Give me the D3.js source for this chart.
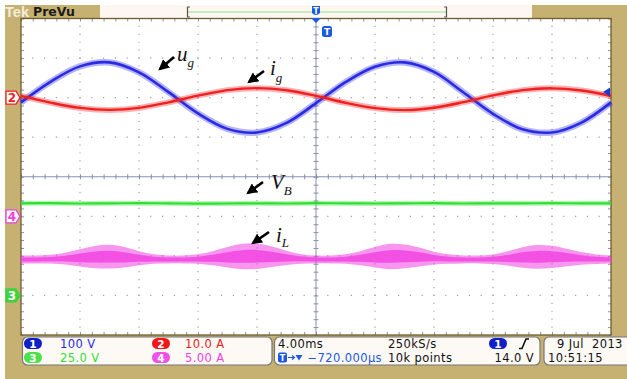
<!DOCTYPE html>
<html><head><meta charset="utf-8">
<script src="https://cdn.jsdelivr.net/npm/d3@7"></script>
<style>html,body{margin:0;padding:0;background:#fff;}svg{display:block;}</style>
</head><body>
<svg id="c" width="627" height="379"></svg>
<script>
// ---- data (time in ms, 4 ms/div, 10 div) ----
const tCoarse = d3.range(0, 40.01, 2);           // 2 ms steps
const tFine = d3.range(0, 40.01, 1);             // 1 ms steps
// CH1 u_g (V), 100 V/div
const ug = [-12, 40, 79, 89, 64, 14, -40, -79, -88, -64, -14, 39, 78, 89, 65, 13, -41, -80, -88, -63, -12];
// CH2 i_g (A), 10 A/div
const ig = [0.45, -1.25, -2.6, -3.1, -2.6, -1.2, 0.5, 1.9, 2.4, 1.85, 0.45, -1.3, -2.65, -3.15, -2.55, -1.15, 0.55, 1.9, 2.35, 1.8, 0.4];
// CH3 V_B (V), 25 V/div
const vB = [58.2, 58.3, 58.1, 58.2, 58.3, 58.2, 58.0, 58.1, 58.2, 58.1, 58.3, 58.2, 58.1, 58.2, 58.3, 58.1, 58.2, 58.2, 58.3, 58.2, 58.2];
// CH4 i_L (A), 5 A/div : centre of trace and half-width of ripple band
const iLmid = [-5.45,-5.45,-5.42,-5.35,-5.25,-5.15,-5.1,-5.18,-5.3,-5.4,-5.45,-5.45,-5.4,-5.3,-5.18,-5.08,-5.05,-5.12,-5.25,-5.38,-5.45,-5.45,-5.4,-5.3,-5.18,-5.08,-5.06,-5.15,-5.28,-5.4,-5.45,-5.45,-5.42,-5.33,-5.2,-5.12,-5.12,-5.2,-5.32,-5.42,-5.45];
const iLspread = [0.5,0.5,0.55,0.75,1.1,1.4,1.5,1.3,0.9,0.6,0.5,0.5,0.6,0.9,1.3,1.6,1.6,1.3,0.9,0.6,0.5,0.5,0.6,0.9,1.3,1.6,1.5,1.2,0.8,0.6,0.5,0.5,0.6,0.9,1.3,1.5,1.4,1.1,0.8,0.6,0.5];
// channel settings
const chScale = [100, 10, 25, 5];      // units / div
const chPos = [2, 2, -3, -1];          // ground marker position (div)
const chColor = ["#2a2ae6", "#f02020", "#30e030", "#f040e0"];
const chLabels = ["100 V", "10.0 A", "25.0 V", "5.00 A"];
const timebase = "4.00ms", sampleRate = "250kS/s", delay = "\u2212720.000\u00b5s", recLen = "10k points", trigLevel = "14.0 V";
const dateText = "9 Jul  2013", timeText = "10:51:15";
const trigVolts = 14.0;

const svg = d3.select("#c");
const tan = "#c6b172";
const L = 21, R = 611, T = 18.5, B = 335;
const x = d3.scaleLinear().domain([0, 40]).range([L, R]);
const y = d3.scaleLinear().domain([-4, 4]).range([B, T]);
const yCh = (ch, v) => y(v / chScale[ch] + chPos[ch]);

// frame / background
svg.append("rect").attr("x", 5).attr("y", 5).attr("width", 622).attr("height", 374).attr("fill", tan);
svg.append("rect").attr("x", L).attr("y", T).attr("width", R - L).attr("height", B - T).attr("fill", "#ffffff");

// record view bar
svg.append("rect").attr("x", 100).attr("y", 5).attr("width", 432).attr("height", 13).attr("fill", "#fdf7f1");
svg.append("line").attr("x1", 188).attr("x2", 446).attr("y1", 12).attr("y2", 12).attr("stroke", "#8de08d").attr("stroke-width", 1.2);
svg.append("path").attr("d", "M190,7 H187.5 V17 H190").attr("fill", "none").attr("stroke", "#555").attr("stroke-width", 1.2);
svg.append("path").attr("d", "M444,7 H446.5 V17 H444").attr("fill", "none").attr("stroke", "#555").attr("stroke-width", 1.2);
svg.append("text").attr("x", 5).attr("y", 17).attr("font-family", "Liberation Sans").attr("font-size", 15).attr("font-weight", "bold")
  .attr("textLength", 24).attr("lengthAdjust", "spacingAndGlyphs").attr("fill", "#f3ecd8").text("Tek");
svg.append("text").attr("x", 33).attr("y", 16).attr("font-family", "DejaVu Sans").attr("font-size", 12.5).attr("font-weight", "bold").attr("fill", "#1a1a1a").text("PreVu");

// graticule dotted lines
const g = svg.append("g");
const xDivs = d3.range(1, 10).map(i => i * 4);
const yDivs = d3.range(-3, 4);
const dotX = (x(0.8) - x(0));
const dotY = (y(0) - y(0.2));
g.selectAll(".vg").data(xDivs.filter(d => d !== 20)).join("line")
  .attr("x1", d => x(d)).attr("x2", d => x(d)).attr("y1", T).attr("y2", B)
  .attr("stroke", "#9aa0b8").attr("stroke-width", 1.2).attr("stroke-dasharray", `1.2 ${dotY - 1.2}`).attr("stroke-dashoffset", 0.6);
g.selectAll(".hg").data(yDivs.filter(d => d !== 0)).join("line")
  .attr("x1", L).attr("x2", R).attr("y1", d => y(d)).attr("y2", d => y(d))
  .attr("stroke", "#9aa0b8").attr("stroke-width", 1.2).attr("stroke-dasharray", `1.2 ${dotX - 1.2}`).attr("stroke-dashoffset", 0.6);
// centre axes
g.append("line").attr("x1", L).attr("x2", R).attr("y1", y(0)).attr("y2", y(0)).attr("stroke", "#8890b0").attr("stroke-width", 1);
g.append("line").attr("x1", x(20)).attr("x2", x(20)).attr("y1", T).attr("y2", B).attr("stroke", "#8890b0").attr("stroke-width", 1);
const xt = d3.range(0, 40.01, 0.8), yt = d3.range(-4, 4.01, 0.2);
const axC = g.append("g").attr("transform", `translate(0,${y(0) - 2.5})`).call(d3.axisBottom(x).tickValues(xt).tickSize(5).tickFormat(""));
const ayC = g.append("g").attr("transform", `translate(${x(20) + 2.5},0)`).call(d3.axisLeft(y).tickValues(yt).tickSize(5).tickFormat(""));
const axT = g.append("g").attr("transform", `translate(0,${T})`).call(d3.axisBottom(x).tickValues(xt).tickSize(3).tickFormat(""));
const axB = g.append("g").attr("transform", `translate(0,${B})`).call(d3.axisTop(x).tickValues(xt).tickSize(3).tickFormat(""));
const ayL = g.append("g").attr("transform", `translate(${L},0)`).call(d3.axisRight(y).tickValues(yt).tickSize(3).tickFormat(""));
const ayR = g.append("g").attr("transform", `translate(${R},0)`).call(d3.axisLeft(y).tickValues(yt).tickSize(3).tickFormat(""));
[axC, ayC, axT, axB, ayL, ayR].forEach(a => { a.select(".domain").remove(); a.selectAll("line").attr("stroke", "#8890b0"); });
svg.append("rect").attr("x", L).attr("y", T).attr("width", R - L).attr("height", B - T).attr("fill", "none").attr("stroke", "#6e5c2c").attr("stroke-width", 1.3);

// traces
const tr = svg.append("g");
function trace(tArr, vals, ch, wCore, wHalo) {
  const ln = d3.line().x((d, i) => x(tArr[i])).y(d => yCh(ch, d)).curve(d3.curveCatmullRom);
  tr.append("path").attr("d", ln(vals)).attr("fill", "none").attr("stroke", chColor[ch]).attr("stroke-width", wHalo).attr("stroke-opacity", 0.35);
  tr.append("path").attr("d", ln(vals)).attr("fill", "none").attr("stroke", chColor[ch]).attr("stroke-width", wCore);
}
// i_L band
const area = d3.area().x((d, i) => x(tFine[i])).y0((d, i) => yCh(3, d - iLspread[i])).y1((d, i) => yCh(3, d + iLspread[i])).curve(d3.curveCatmullRom);
tr.append("path").attr("d", area(iLmid)).attr("fill", chColor[3]).attr("fill-opacity", 0.55);
const area2 = d3.area().x((d, i) => x(tFine[i])).y0((d, i) => yCh(3, d - iLspread[i] * 0.5)).y1((d, i) => yCh(3, d + iLspread[i] * 0.5)).curve(d3.curveCatmullRom);
tr.append("path").attr("d", area2(iLmid)).attr("fill", chColor[3]).attr("fill-opacity", 0.8);
trace(tCoarse, vB, 2, 2.2, 5);
trace(tCoarse, ug, 0, 2.6, 6.5);
trace(tCoarse, ig, 1, 2.4, 6);

// annotations
const ann = svg.append("g");
svg.append("defs").append("marker").attr("id", "ah").attr("viewBox", "0 0 10 10").attr("refX", 8).attr("refY", 5)
  .attr("markerWidth", 4.2).attr("markerHeight", 4.2).attr("orient", "auto")
  .append("path").attr("d", "M0,0 L10,5 L0,10 Z").attr("fill", "#000");
function arrow(x1, y1, x2, y2) {
  ann.append("line").attr("x1", x1).attr("y1", y1).attr("x2", x2).attr("y2", y2).attr("stroke", "#000").attr("stroke-width", 2.6).attr("marker-end", "url(#ah)");
}
function label(xx, yy, main, sub, dy) {
  const t = ann.append("text").attr("x", xx).attr("y", yy).attr("font-family", "Liberation Serif").attr("font-style", "italic").attr("font-size", 21).attr("fill", "#111");
  t.append("tspan").text(main);
  t.append("tspan").attr("dy", dy).attr("font-size", 13).text(sub);
}
arrow(174, 57, 160, 69); label(177, 61, "u", "g", 6);
arrow(264, 71, 249, 82); label(270, 75, "i", "g", 7);
arrow(263, 182, 248, 193); label(271, 189, "V", "B", 6);
arrow(269, 232, 253, 243); label(276, 242, "i", "L", 5);

// channel ground markers (left)
function leftMarker(ch, fillCol, strokeCol, textCol, txt) {
  const yy = y(chPos[ch]);
  svg.append("path").attr("d", `M6,${yy - 6.5} H16 L20,${yy} L16,${yy + 6.5} H6 Z`).attr("fill", fillCol).attr("stroke", strokeCol).attr("stroke-width", 1.3);
  svg.append("text").attr("x", 12).attr("y", yy + 4.5).attr("text-anchor", "middle").attr("font-family", "DejaVu Sans").attr("font-weight", "bold").attr("font-size", 12).attr("fill", textCol).text(txt);
}
leftMarker(1, "#ffffff", chColor[1], chColor[1], "2");
leftMarker(3, "#ffffff", chColor[3], chColor[3], "4");
leftMarker(2, "#3dd43d", "#3dd43d", "#ffffff", "3");
// trigger level arrow (right)
const ty = yCh(0, trigVolts);
svg.append("path").attr("d", `M603,${ty} L610,${ty - 4.5} L610,${ty + 4.5} Z`).attr("fill", "#1a3ad8");
// trigger position markers (top)
const tx = x(20);
svg.append("path").attr("d", `M${tx - 4},6 H${tx + 4} V13 Q${tx},17 ${tx - 4},13 Z`).attr("fill", "#1a5ae0");
svg.append("path").attr("d", `M${tx - 5},18 L${tx + 5},18 L${tx},23 Z`).attr("fill", "#1a5ae0");
svg.append("text").attr("x", tx).attr("y", 14).attr("text-anchor", "middle").attr("font-family", "DejaVu Sans").attr("font-weight", "bold").attr("font-size", 8).attr("fill", "#fff").text("T");
svg.append("rect").attr("x", tx + 6).attr("y", 26).attr("width", 10).attr("height", 11).attr("rx", 2.5).attr("fill", "#1a5ae0");
svg.append("text").attr("x", tx + 11).attr("y", 35).attr("text-anchor", "middle").attr("font-family", "DejaVu Sans").attr("font-weight", "bold").attr("font-size", 9).attr("fill", "#fff").text("T");

// status boxes
const st = svg.append("g").attr("font-family", "DejaVu Sans").attr("font-size", 11.5).attr("letter-spacing", 0.4);
function box(x0, x1) {
  st.append("rect").attr("x", x0).attr("y", 337).attr("width", x1 - x0).attr("height", 28).attr("rx", 5).attr("fill", "#fdf9f5").attr("stroke", "#777").attr("stroke-width", 1.2);
}
box(22.5, 272); box(274.5, 540); box(544, 640);
function badge(cx, cy, col, txt) {
  st.append("rect").attr("x", cx - 9).attr("y", cy - 5.5).attr("width", 18).attr("height", 11).attr("rx", 5.5).attr("fill", col);
  st.append("text").attr("x", cx).attr("y", cy + 4).attr("text-anchor", "middle").attr("font-size", 10.5).attr("letter-spacing", 0).attr("font-weight", "bold").attr("fill", "#fff").text(txt);
}
const rowY = [343.5, 357.5];
const badgeCols = ["#1020c8", "#f01818", "#4ce04c", "#f050e8"];
const pos = [[33, 60], [161, 185], [33, 60], [161, 185]];
[0, 1, 2, 3].forEach(i => {
  const r = i < 2 ? 0 : 1;
  badge(pos[i][0], rowY[r], badgeCols[i], String(i + 1));
  st.append("text").attr("x", pos[i][1]).attr("y", rowY[r] + 4.5).attr("fill", chColor[i]).text(chLabels[i]);
});
st.append("text").attr("x", 278).attr("y", 348).attr("fill", "#111").text(timebase);
st.append("text").attr("x", 388).attr("y", 348).attr("fill", "#111").text(sampleRate);
badge(498, 343.5, "#1020c8", "1");
st.append("path").attr("d", "M519,348.5 H522 L526,339 H529").attr("fill", "none").attr("stroke", "#111").attr("stroke-width", 1.6);
st.append("rect").attr("x", 278).attr("y", 352.5).attr("width", 9).attr("height", 10).attr("rx", 2).attr("fill", "#1a5ae0");
st.append("text").attr("x", 282.5).attr("y", 361).attr("text-anchor", "middle").attr("font-size", 8).attr("letter-spacing", 0).attr("font-weight", "bold").attr("fill", "#fff").text("T");
st.append("path").attr("d", "M288,357.5 H294 M292,355.5 L294.5,357.5 L292,359.5").attr("fill", "none").attr("stroke", "#1a5ae0").attr("stroke-width", 1.2);
st.append("path").attr("d", "M295.5,355 H302.5 L299,360.5 Z").attr("fill", "#1a5ae0");
st.append("text").attr("x", 382).attr("y", 362).attr("text-anchor", "end").attr("fill", "#1a5ae0").text(delay);
st.append("text").attr("x", 388).attr("y", 362).attr("fill", "#111").text(recLen);
st.append("text").attr("x", 534).attr("y", 362).attr("text-anchor", "end").attr("fill", "#111").text(trigLevel);
st.append("text").attr("x", 557).attr("y", 348).attr("fill", "#111").style("white-space", "pre").text(dateText);
st.append("text").attr("x", 548).attr("y", 362).attr("fill", "#111").text(timeText);
</script>
</body></html>
